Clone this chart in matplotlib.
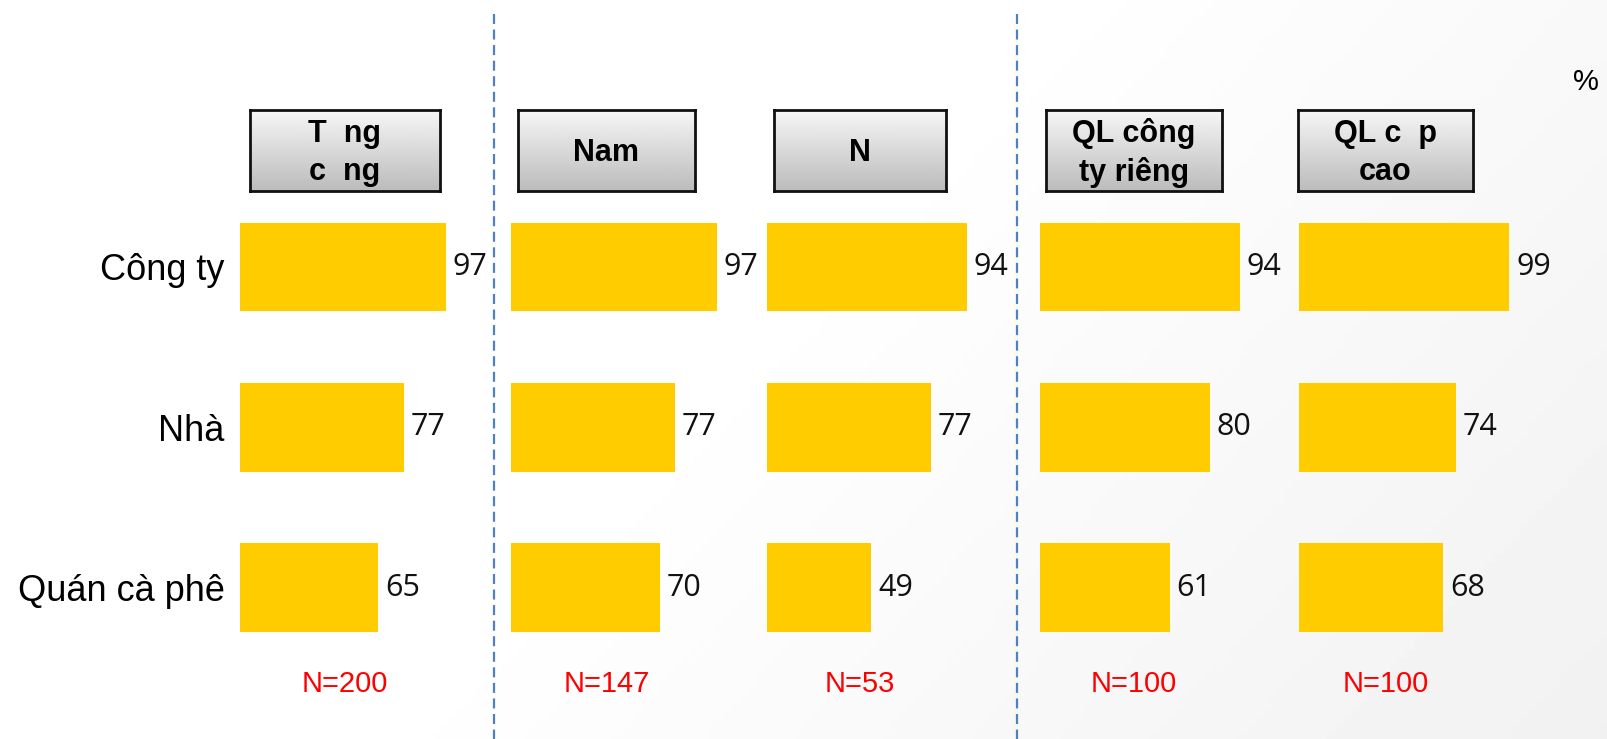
import numpy as np
import matplotlib
matplotlib.use('Agg')
import matplotlib.pyplot as plt
from matplotlib.lines import Line2D

# Data
places = ['Công ty', 'Nhà', 'Quán cà phê']
groups = ['T  ng\nc  ng', 'Nam', 'N', 'QL công\nty riêng', 'QL c  p\ncao']
total = [97, 77, 65]
nam = [97, 77, 70]
nu = [94, 77, 49]
ql_cong_ty = [94, 80, 61]
ql_cap_cao = [99, 74, 68]
sample_n = [200, 147, 53, 100, 100]
series = [total, nam, nu, ql_cong_ty, ql_cap_cao]

W, H = 1608, 739
fig = plt.figure(figsize=(W / 100, H / 100), dpi=100)


def fx(x):
    return x / W


def fy(y):
    return 1 - y / H


# faint background gradient (white on the left -> light grey bottom-right)
bg = fig.add_axes([0, 0, 1, 1], zorder=-10)
gx, gy = np.meshgrid(np.linspace(0, 1, 200), np.linspace(0, 1, 100))
g = np.clip((gx * 0.7 + gy * 0.3 - 0.45) / 0.55, 0, 1)
bg.imshow(1 - 0.055 * g, cmap='gray', vmin=0, vmax=1, aspect='auto',
          extent=[0, 1, 0, 1], origin='upper')
bg.axis('off')

bar_left = [240, 511, 767, 1040, 1299]
header_x = [(250, 440), (518, 695), (774, 946), (1046, 1222), (1298, 1473)]
px_per_unit = 2.124
ax_top, ax_bot = 186.8, 667.8

grad = np.linspace(0, 1, 100).reshape(-1, 1)

for i, vals in enumerate(series):
    left = bar_left[i]
    ax = fig.add_axes([fx(left), fy(ax_bot), 100 * px_per_unit / W,
                       (ax_bot - ax_top) / H])
    ax.patch.set_alpha(0)
    ax.barh(range(len(places)), vals, height=0.553, color='#FFCC00')
    for j, v in enumerate(vals):
        ax.annotate(str(v), (v, j), xytext=(5, 0), textcoords='offset points',
                    va='center', ha='left', fontsize=22, family='Open Sans',
                    color='#111111')
    ax.set_xlim(0, 100)
    ax.set_ylim(2.5, -0.5)
    ax.set_xticks([])
    for s in ax.spines.values():
        s.set_visible(False)
    if i == 0:
        ax.set_yticks(range(len(places)))
        ax.set_yticklabels(places, fontsize=26, family='Liberation Sans')
        ax.tick_params(axis='y', length=0, pad=11)
    else:
        ax.set_yticks([])

    # header box with grey gradient
    x0, x1 = header_x[i]
    hax = fig.add_axes([fx(x0), fy(191), (x1 - x0) / W, 81 / H])
    hax.imshow(grad, cmap='gray', vmin=-3.2, vmax=1.15, aspect='auto',
               extent=[0, 1, 0, 1], origin='lower')
    hax.set_xticks([])
    hax.set_yticks([])
    for s in hax.spines.values():
        s.set_linewidth(2)
        s.set_color('#111111')
    hax.text(0.5, 0.47, groups[i], ha='center', va='center', fontsize=22,
             fontweight='bold', family='Liberation Sans', linespacing=1.32,
             transform=hax.transAxes)

    fig.text(fx((x0 + x1) / 2), fy(684), 'N=%d' % sample_n[i], color='red',
             ha='center', va='center', fontsize=21, family='Liberation Sans')

# dashed separators
for xs in (494, 1017):
    fig.add_artist(Line2D([fx(xs), fx(xs)], [fy(14), 0], color='#4F81BD',
                          lw=1.6, dashes=(4.5, 2.5)))

fig.text(fx(1586), fy(82), '%', ha='center', va='center', fontsize=21,
         family='Liberation Sans')

fig.savefig('out.png', dpi=100)
